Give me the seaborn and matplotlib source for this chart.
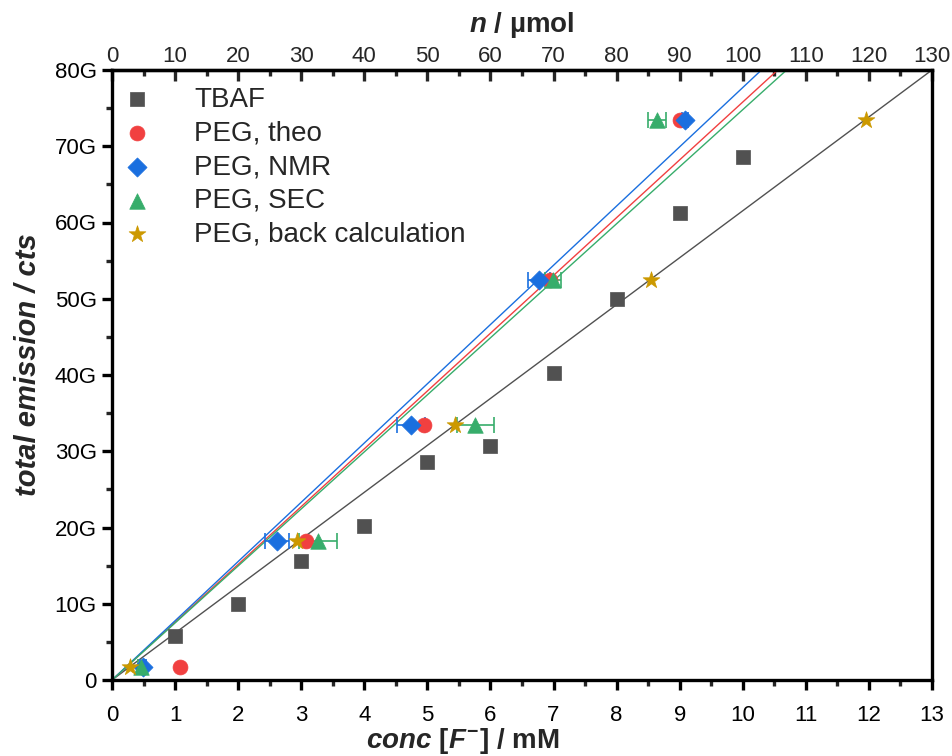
import numpy as np
import pandas as pd
import matplotlib
matplotlib.use("Agg")
import matplotlib.pyplot as plt
from matplotlib.ticker import MultipleLocator, FuncFormatter
import seaborn as sns

# ---------------- data ----------------
tbaf_conc = [1, 2, 3, 4, 5, 6, 7, 8, 9, 10]
tbaf_emis = [5.8, 10.0, 15.6, 20.2, 28.6, 30.7, 40.3, 50.0, 61.2, 68.6]

peg_emis = [1.7, 18.2, 33.4, 52.5, 73.5]
theo_conc = [1.08, 3.08, 4.95, 6.94, 9.00]
nmr_conc = [0.49, 2.62, 4.74, 6.77, 9.08]
nmr_err = [0.05, 0.19, 0.22, 0.18, 0.05]
sec_conc = [0.46, 3.27, 5.76, 6.99, 8.64]
sec_err = [0.05, 0.30, 0.29, 0.13, 0.14]
back_conc = [0.29, 2.93, 5.44, 8.54, 11.95]

# fit slopes (G cts per mM, lines through origin)
fit_names = ["TBAF", "PEG, theo", "PEG, NMR", "PEG, SEC"]
fit_slopes = [6.154, 7.58, 7.77, 7.48]

x_ticks = list(range(0, 14))
y_ticks = list(range(0, 90, 10))
top_ticks = list(range(0, 140, 10))

colors = {"TBAF": "#515151", "PEG, theo": "#F14040", "PEG, NMR": "#1A6FDF",
          "PEG, SEC": "#37AD6B", "PEG, back calculation": "#CC9900"}
markers = {"TBAF": "s", "PEG, theo": "o", "PEG, NMR": "D",
           "PEG, SEC": "^", "PEG, back calculation": "*"}
sizes = {"TBAF": 100, "PEG, theo": 115, "PEG, NMR": 95,
         "PEG, SEC": 125, "PEG, back calculation": 160}

# ---------------- styling ----------------
sns.set_style("white")
plt.rcParams["font.family"] = ["Liberation Sans", "DejaVu Sans"]
plt.rcParams["mathtext.fontset"] = "custom"
plt.rcParams["mathtext.it"] = "Liberation Sans:italic:bold"
plt.rcParams["mathtext.rm"] = "Liberation Sans:bold"
plt.rcParams["mathtext.bf"] = "Liberation Sans:bold"

fig = plt.figure(figsize=(9.53, 7.56), dpi=100)
ax = fig.add_axes([112 / 953, 1 - 680 / 756, (932 - 112) / 953, (680 - 70) / 756])

# fit lines
xs = np.array([0.0, 13.0])
for name, k in zip(fit_names, fit_slopes):
    sns.lineplot(x=xs, y=k * xs, color=colors[name], lw=1.0, ax=ax, zorder=2)

# error bars
ax.errorbar(nmr_conc, peg_emis, xerr=nmr_err, fmt="none", ecolor=colors["PEG, NMR"],
            elinewidth=1.2, capsize=6, capthick=1.2, zorder=3)
ax.errorbar(sec_conc, peg_emis, xerr=sec_err, fmt="none", ecolor=colors["PEG, SEC"],
            elinewidth=1.2, capsize=6, capthick=1.2, zorder=3)

series = [("TBAF", tbaf_conc, tbaf_emis),
          ("PEG, theo", theo_conc, peg_emis),
          ("PEG, NMR", nmr_conc, peg_emis),
          ("PEG, SEC", sec_conc, peg_emis),
          ("PEG, back calculation", back_conc, peg_emis)]
for name, xv, yv in series:
    df = pd.DataFrame({"conc": xv, "emis": yv})
    sns.scatterplot(data=df, x="conc", y="emis", color=colors[name], marker=markers[name],
                    s=sizes[name], edgecolor=colors[name], linewidth=0.5, ax=ax,
                    label=name, zorder=4)

ax.set_xlim(0, 13)
ax.set_ylim(0, 80)
ax.set_xticks(x_ticks)
ax.set_yticks(y_ticks)
ax.xaxis.set_minor_locator(MultipleLocator(0.5))
ax.yaxis.set_minor_locator(MultipleLocator(5))
ax.yaxis.set_major_formatter(FuncFormatter(lambda v, p: "0" if v == 0 else f"{v:.0f}G"))

for s in ax.spines.values():
    s.set_linewidth(2.4)
    s.set_color("black")

ax.tick_params(axis="both", which="major", direction="out", length=7, width=2.4,
               labelsize=16, colors="black")
ax.tick_params(axis="both", which="minor", direction="out", length=4, width=2.4)
ax.tick_params(axis="x", which="major", pad=11)
ax.tick_params(axis="y", which="major", pad=4)
ax.tick_params(right=False, top=False, which="both")
ax.tick_params(axis="x", which="both", bottom=True)
ax.tick_params(axis="y", which="both", left=True)

ax.set_xlabel(r"$conc\ [F^{-}]$ / mM", fontsize=20, fontweight="bold")
ax.xaxis.set_label_coords((463 - 112) / 820, (680 - 726) / 610)
ax.set_ylabel("total emission / cts", fontsize=21, fontweight="bold", style="italic")
ax.yaxis.set_label_coords((42 - 112) / 820, (680 - 365) / 610)

# top axis: n / µmol
top = ax.secondary_xaxis("top", functions=(lambda x: x * 10, lambda n: n / 10))
top.set_xticks(top_ticks)
top.xaxis.set_minor_locator(MultipleLocator(5))
top.spines["top"].set_linewidth(2.4)
top.tick_params(axis="x", which="both", top=True)
top.tick_params(axis="x", which="major", direction="in", length=8, width=2.4,
                labelsize=16, pad=2)
top.tick_params(axis="x", which="minor", direction="in", length=4, width=2.4)
top.set_xlabel(r"$n$ / µmol", fontsize=20, fontweight="bold", labelpad=10)

leg = ax.legend(loc="upper left", frameon=False, fontsize=20, labelspacing=0.28,
                handletextpad=1.55, borderaxespad=0.0, borderpad=0.2, handlelength=1.0,
                bbox_to_anchor=(5.5 / 820, 1 - 11 / 610))

fig.savefig("out.png", dpi=100)
